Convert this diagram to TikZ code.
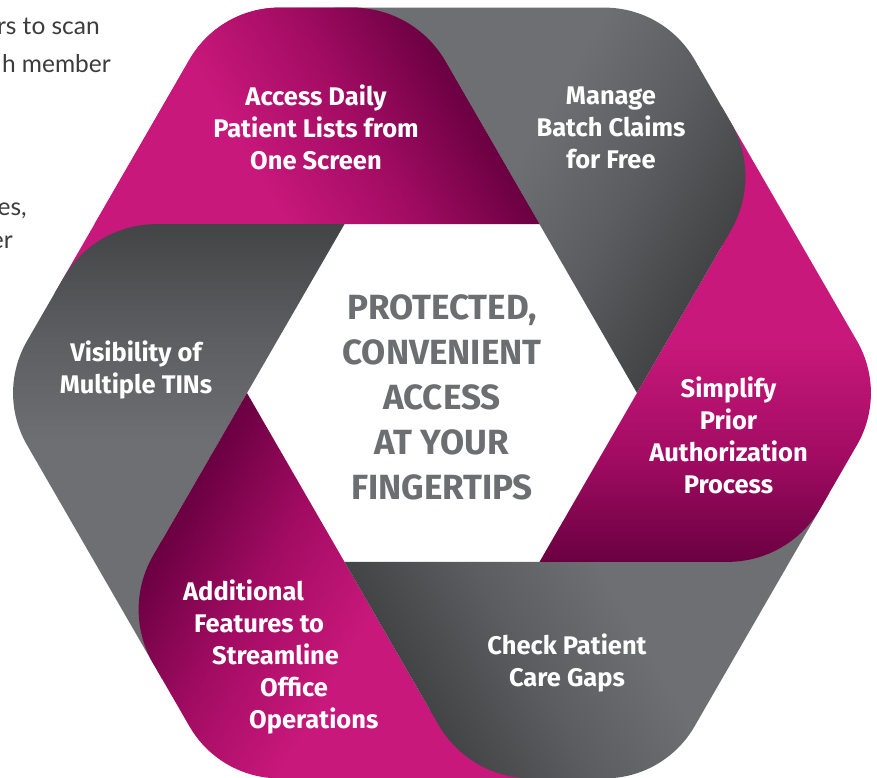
\documentclass[tikz,border=0pt]{standalone}
\usepackage{fontspec}
\setmainfont{Fira Sans}
\newfontfamily\bodyfont{Lato}
\definecolor{magL}{HTML}{C8187B}
\definecolor{magM}{HTML}{A30C63}
\definecolor{magD}{HTML}{6A0041}
\definecolor{grayL}{HTML}{6E6F72}
\definecolor{grayM}{HTML}{5C5D60}
\definecolor{grayD}{HTML}{434446}
\definecolor{hubtext}{HTML}{6D6E71}
\definecolor{bodytext}{HTML}{3C3C3C}
\pgfdeclarehorizontalshading{magshade}{100bp}{color(0bp)=(magL); color(50.9bp)=(magL); color(63bp)=(magM); color(75bp)=(magD); color(100bp)=(magD)}
\pgfdeclarehorizontalshading{grayshade}{100bp}{color(0bp)=(grayL); color(50.9bp)=(grayL); color(63bp)=(grayM); color(75bp)=(grayD); color(100bp)=(grayD)}
% one band of the ring, drawn in its own frame and turned into place
\newcommand\ringband[2]{%
  \begin{scope}[transform canvas={rotate=#1}]
    \shade[shading=#2] (-147.2,280) -- (-285.8,280) -- (-51.96,415)
      .. controls (-19.8,433.57) and (19.8,433.57) .. (51.96,415)
      -- (115.18,378.5)
      .. controls (148.42,359.3) and (168.87,323.9) .. (168.87,285.5)
      -- (168.87,97.5) -- cycle;
  \end{scope}}
\begin{document}
\begin{tikzpicture}[x=1pt,y=1pt,
  lbl/.style={text=white, font={\bfseries\fontsize{25.5}{32}\selectfont}, align=center, inner sep=0pt},
  hub/.style={text=hubtext, font={\bfseries\fontsize{35}{45}\selectfont}, align=center, inner sep=0pt},
  body/.style={text=bodytext, font={\bodyfont\fontsize{24.5}{30}\selectfont}, inner sep=0pt, anchor=base east}]
\fill[white] (-442,-384) rectangle (435,393);
\useasboundingbox (-442,-384) rectangle (435,393);
% bands, each one's head lying over the next one's tail
\ringband{30}{magshade}    % Access
\ringband{90}{grayshade}   % Visibility
\ringband{150}{magshade}   % Additional
\ringband{-150}{grayshade} % Check
\ringband{-90}{magshade}   % Simplify
\ringband{-30}{grayshade}  % Manage
\begin{scope}
  \clip (-442,169.5) rectangle (435,393);
  \ringband{30}{magshade}
\end{scope}
% labels
\node[lbl] (access) at (-126,266) {Access Daily\\Patient Lists from\\One Screen};
\node[lbl] (manage) at (169,265) {Manage\\Batch Claims\\for Free};
\node[lbl] (simplify) at (286.5,-42) {Simplify\\Prior\\Authorization\\Process};
\node[lbl] (check) at (125,-270) {Check Patient\\Care Gaps};
\node[lbl, align=left, anchor=west] (additional) at (-259,-264) {Additional\\\hspace*{11pt}Features to\\\hspace*{29pt}Streamline\\\hspace*{77pt}Office\\\hspace*{66pt}Operations};
\node[lbl] (visibility) at (-306,23) {Visibility of\\Multiple TINs};
\node[hub] (hub) at (0,-4.5) {PROTECTED,\\CONVENIENT\\ACCESS\\AT YOUR\\FINGERTIPS};
% cut-off body text at the left edge
\node[body] (t1) at (-342,358) {rs to scan};
\node[body] (t2) at (-331,320) {h member};
\node[body] (t3) at (-415,178) {es,};
\node[body] (t4) at (-429,145) {er};
\end{tikzpicture}
\end{document}
